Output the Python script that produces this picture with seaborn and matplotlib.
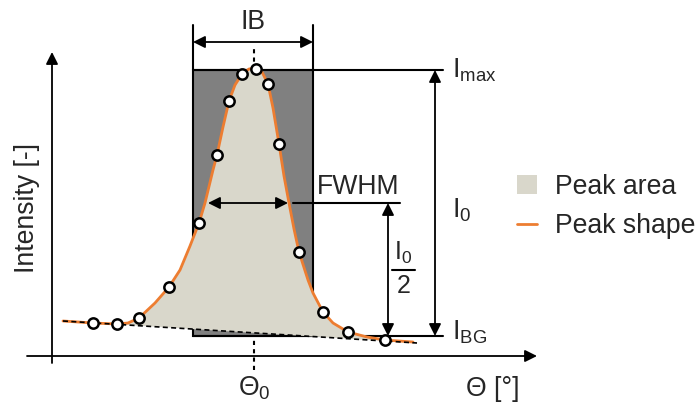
import matplotlib
matplotlib.use("Agg")
import matplotlib.pyplot as plt
import seaborn as sns
from matplotlib.patches import Rectangle, Patch
from matplotlib.lines import Line2D

# ---------------- data (theta position, intensity) ----------------
curve_theta = [63, 93, 117, 128, 139, 155, 169, 180, 190, 199, 205, 213, 217, 223, 229,
               235, 242, 249, 256, 262, 268, 273, 279, 284, 289, 294, 299, 308, 313, 323,
               333, 348, 367, 385, 413]
curve_int = [35, 33, 32, 33, 38, 53, 69, 86, 110, 133, 153, 186, 201, 229, 255,
             271, 282, 287, 288, 284, 272, 248, 212, 180, 153, 127, 104, 76, 63, 44,
             33, 24, 19, 16, 14]
point_theta = [93, 117, 139, 169, 199, 217, 229, 242, 256, 268, 279, 299, 323, 348, 385]
point_int = [33, 32, 38, 69, 133, 201, 255, 282, 287, 272, 212, 104, 44, 24, 16]
baseline_theta = [63, 417]
baseline_int = [35, 13]

theta0 = 254
ib_left, ib_right = 193, 313
i_max, i_bg, i_half = 286, 20, 153

legend_labels = ["Peak area", "Peak shape"]

ORANGE = "#ED7D31"
AREA = "#D9D7CB"
DARK = "#808080"

sns.set_style("white")
plt.rcParams["font.family"] = ["Liberation Sans", "DejaVu Sans"]
plt.rcParams["mathtext.fontset"] = "custom"
plt.rcParams["mathtext.rm"] = "Liberation Sans"
plt.rcParams["mathtext.it"] = "Liberation Sans"
plt.rcParams["mathtext.default"] = "regular"

fig = plt.figure(figsize=(6.97, 4.05), dpi=100)
ax = fig.add_axes([0, 0, 1, 1])
ax.set_xlim(0, 697)
ax.set_ylim(-49, 356)
ax.axis("off")

FS = 19.2
LW = 1.3

def arrow(x0, y0, x1, y1, style="<|-|>"):
    ax.annotate("", xy=(x1, y1), xytext=(x0, y0),
                arrowprops=dict(arrowstyle=style, color="black", lw=LW,
                                mutation_scale=18, shrinkA=0, shrinkB=0),
                zorder=6)

# axes arrows
arrow(52, -7, 52, 304, style="-|>")
arrow(27, 0, 537, 0, style="-|>")

# center dashed line
ax.plot([theta0, theta0], [-14, 307], color="black", lw=1.5,
        linestyle=(0, (2, 2)), zorder=0.5)

# integral breadth rectangle
ax.add_patch(Rectangle((ib_left, i_bg), ib_right - ib_left, i_max - i_bg,
                       facecolor=DARK, edgecolor="black", lw=1.5, zorder=1))
for xv in (ib_left, ib_right):
    ax.plot([xv, xv], [i_max, 331], color="black", lw=1.5, zorder=1)
arrow(ib_left, 314, ib_right, 314)
ax.text((ib_left + ib_right) / 2, 327, "IB", fontsize=FS, ha="center", va="baseline")

# peak area fill
poly_x = curve_theta + baseline_theta[::-1]
poly_y = curve_int + baseline_int[::-1]
ax.fill(poly_x, poly_y, color=AREA, lw=0, zorder=2)

# peak shape
sns.lineplot(x=curve_theta, y=curve_int, sort=False, estimator=None,
             color=ORANGE, lw=2, ax=ax, zorder=3)
# baseline
ax.plot(baseline_theta, baseline_int, color="black", lw=1.2,
        linestyle=(0, (3, 2)), zorder=4)
# measured points
sns.scatterplot(x=point_theta, y=point_int, s=55, color="white",
                edgecolor="black", linewidth=1.8, ax=ax, zorder=5)

# Imax / IBG lines
ax.plot([ib_left, 443], [i_max, i_max], color="black", lw=1.5, zorder=1.5)
ax.plot([ib_left, 443], [i_bg, i_bg], color="black", lw=1.5, zorder=1.5)
arrow(435, i_bg, 435, i_max)
ax.text(452, 279, r"$I_{max}$", fontsize=FS, ha="left", va="baseline")
ax.text(452, 139, r"$I_0$", fontsize=FS, ha="left", va="baseline")
ax.text(452, 16, r"$I_{BG}$", fontsize=FS, ha="left", va="baseline")

# FWHM
ax.plot([293, 400], [i_half, i_half], color="black", lw=1.5, zorder=1.5)
arrow(208, i_half, 288, i_half)
ax.text(317, 162, "FWHM", fontsize=FS, ha="left", va="baseline")
arrow(388, i_bg, 388, i_half)
ax.text(403, 96, r"$I_0$", fontsize=18, ha="center", va="baseline")
ax.plot([392, 415], [86, 86], color="black", lw=1.5)
ax.text(404, 63, "2", fontsize=18, ha="center", va="baseline")

# axis labels
ax.text(238, -40, r"$\Theta_0$", fontsize=FS, ha="left", va="baseline")
ax.text(466, -40, "Θ [°]", fontsize=FS, ha="left", va="baseline")
ax.text(27, 148, "Intensity [-]", fontsize=FS, rotation=90, ha="center", va="center")

# legend
handles = [Patch(facecolor=AREA, edgecolor="none", label=legend_labels[0]),
           Line2D([0], [0], color=ORANGE, lw=2, label=legend_labels[1])]
ax.legend(handles=handles, loc="upper left",
          bbox_to_anchor=(517 / 697, 1 - 174 / 405), frameon=False,
          fontsize=FS, borderpad=0, borderaxespad=0, handlelength=0.75,
          handleheight=0.75, handletextpad=0.66, labelspacing=0.5)

fig.savefig("out.png", dpi=100)
